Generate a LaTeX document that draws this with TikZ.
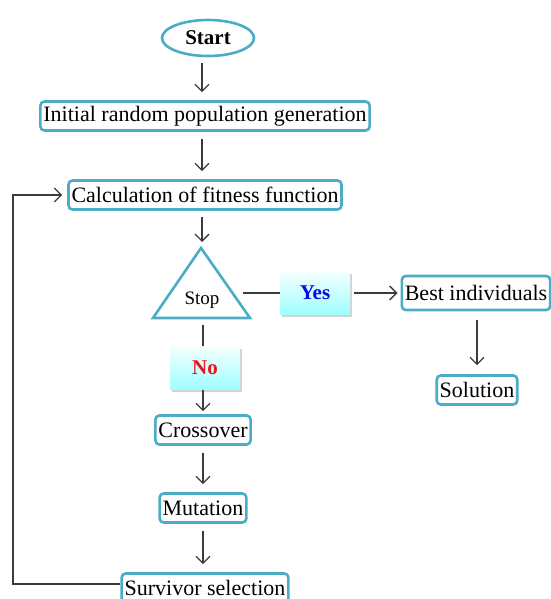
\documentclass[tikz,border=0pt]{standalone}
\usepackage{fontspec}
\setmainfont{Liberation Serif}
\usetikzlibrary{shapes.geometric,shadows,arrows.meta}

\definecolor{boxblue}{RGB}{75,172,198}
\definecolor{arrgray}{RGB}{60,60,60}
\definecolor{yesblue}{RGB}{10,10,230}
\definecolor{nored}{RGB}{235,20,30}

\begin{document}
\begin{tikzpicture}[x=1pt,y=-1pt,
	block/.style={draw=boxblue, line width=2.6pt, rounded corners=4pt, fill=white,
		inner xsep=3pt, minimum height=29pt, font=\fontsize{22}{24}\selectfont},
	startnode/.style={ellipse, draw=boxblue, line width=2.6pt, minimum width=92pt,
		minimum height=36pt, inner sep=0pt, font=\fontsize{21}{23}\selectfont\bfseries},
	tri/.style={draw=boxblue, line width=2.6pt, line join=miter},
	answer/.style={fill=cyan!25, top color=cyan!4, bottom color=cyan!38,
		drop shadow={opacity=0.35, shadow xshift=2pt, shadow yshift=-2pt},
		minimum width=70pt, minimum height=43pt, font=\fontsize{21}{23}\selectfont\bfseries},
	arr/.style={draw=arrgray, line width=1.3pt, -{Straight Barb[length=7pt,width=14pt]}},
	line/.style={draw=arrgray, line width=1.3pt}]
	\useasboundingbox (0,0) rectangle (550,599);
	% Define nodes
	\node[startnode] (start) at (208,38) {Start};
	\node[block] (init) at (205,116) {Initial random population generation};
	\node[block] (calc) at (205,195) {Calculation of fitness function};
	\draw[tri] (201,248) -- (250,318) -- (153,318) -- cycle;
	\node[font=\fontsize{19}{21}\selectfont] (stop) at (202,300) {Stop};
	\coordinate (stopT) at (202,245);
	\coordinate (stopR) at (243,293);
	\coordinate (stopB) at (203,325);
	\node[answer] (yes) at (315,293) {\color{yesblue}Yes};
	\node[block, minimum height=34pt] (best) at (476,293) {Best individuals};
	\node[block] (sol) at (477,390) {Solution};
	\node[answer] (no) at (205,368) {\color{nored}No};
	\node[block] (cross) at (203,430) {Crossover};
	\node[block] (mut) at (203,508) {Mutation};
	\node[block] (surv) at (205,588) {Survivor selection};
	\coordinate (back) at (13,584);
	% Edges
	\draw[arr, shorten <=6pt, shorten >=8pt] (start.south -| stop) -- (init.north -| stop);
	\draw[arr, shorten <=7pt, shorten >=8pt] (init.south -| stop) -- (calc.north -| stop);
	\draw[arr, shorten <=6pt, shorten >=3pt] (calc.south -| stop) -- (stopT);
	\draw[line] (stopR) -- (yes);
	\draw[arr, shorten <=4pt, shorten >=3pt] (yes) -- (best);
	\draw[arr, shorten <=9pt, shorten >=9pt] (best.south -| sol) -- (sol);
	\draw[line] (stopB) -- (no.north -| stopB);
	\draw[arr, shorten >=3pt] (no.south -| stopB) -- (cross.north -| stopB);
	\draw[arr, shorten <=7pt, shorten >=8pt] (cross) -- (mut);
	\draw[arr, shorten <=7pt, shorten >=8pt] (mut) -- (surv.north -| mut);
	\draw[arr, shorten >=5pt] (surv.west |- back) -- (back) |- (calc.west);
\end{tikzpicture}
\end{document}
